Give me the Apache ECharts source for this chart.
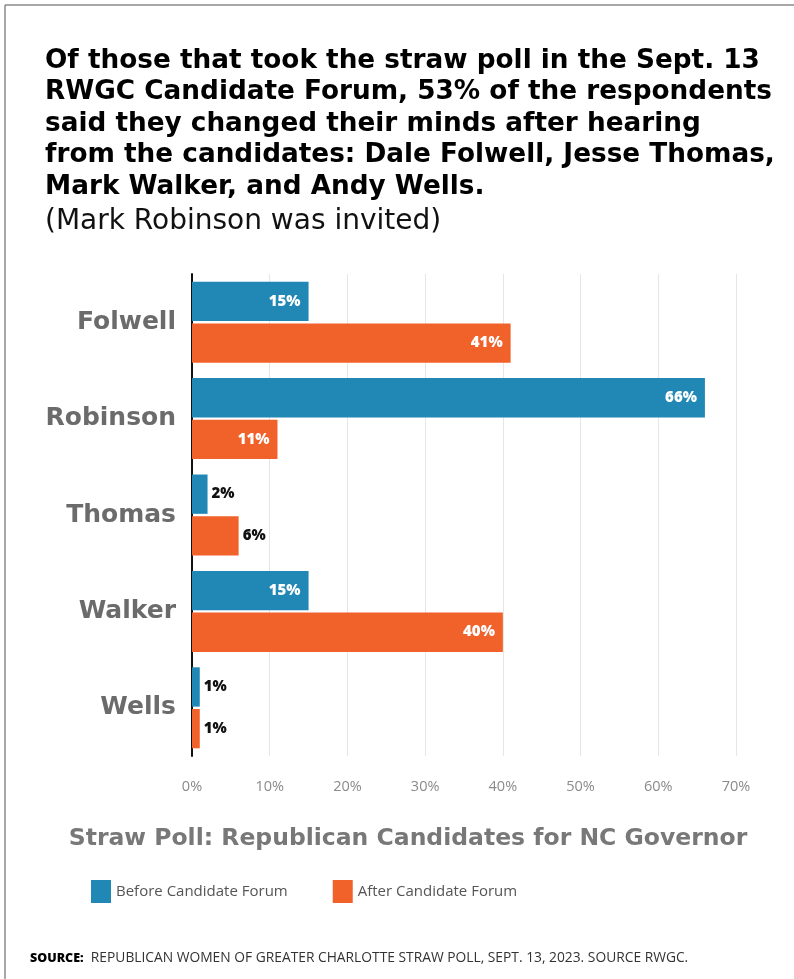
<!DOCTYPE html>
<html><head><meta charset="utf-8">
<script src="https://cdn.jsdelivr.net/npm/echarts@6/dist/echarts.min.js"></script>
<style>html,body{margin:0;padding:0;background:#fff}#c{width:794px;height:979px}</style>
</head><body><div id="c"></div>
<script>
const categories = ['Folwell', 'Robinson', 'Thomas', 'Walker', 'Wells'];
const beforeValues = [15, 66, 2, 15, 1];
const afterValues = [41, 11, 6, 40, 1];
const xTickLabels = ['0%', '10%', '20%', '30%', '40%', '50%', '60%', '70%'];
const seriesNames = ['Before Candidate Forum', 'After Candidate Forum'];

const BLUE = '#2187b5', ORANGE = '#f1612a';
const FONT = 'Open Sans';
const WIDE = 'DejaVu Sans';

function items(vals) {
  return vals.map(v => ({
    value: v,
    label: v >= 10
      ? { position: 'insideRight', color: '#fff', distance: 8 }
      : { position: 'right', color: '#111', distance: 4 }
  }));
}

const chart = echarts.init(document.getElementById('c'), null, { renderer: 'canvas' });
chart.setOption({
  animation: false,
  backgroundColor: '#fff',
  title: [
    {
      text: 'Of those that took the straw poll in the Sept. 13\nRWGC Candidate Forum, 53% of the respondents\nsaid they changed their minds after hearing\nfrom the candidates: Dale Folwell, Jesse Thomas,\nMark Walker, and Andy Wells.',
      left: 45, top: 45, padding: 0,
      textStyle: { fontFamily: WIDE, fontWeight: 'bold', fontSize: 26.3, lineHeight: 31.6, color: '#000' }
    },
    {
      text: '(Mark Robinson was invited)',
      left: 45, top: 208, padding: 0,
      textStyle: { fontFamily: WIDE, fontWeight: 'normal', fontSize: 28, color: '#111' }
    },
    {
      text: 'Straw Poll: Republican Candidates for NC Governor',
      left: 408, textAlign: 'center', top: 827, padding: 0,
      textStyle: { fontFamily: WIDE, fontWeight: 'bold', fontSize: 23.5, color: '#787878' }
    },
    {
      text: '{b|SOURCE:}  REPUBLICAN WOMEN OF GREATER CHARLOTTE STRAW POLL, SEPT. 13, 2023. SOURCE RWGC.',
      left: 30, top: 951, padding: 0,
      textStyle: {
        fontFamily: FONT, fontWeight: 'normal', fontSize: 13.8, color: '#333',
        rich: { b: { fontFamily: FONT, fontWeight: 800, fontSize: 12.5, color: '#000' } }
      }
    }
  ],
  graphic: [
    { type: 'line', shape: { x1: 5, y1: 5, x2: 794, y2: 5 }, style: { stroke: '#8a8a8a', lineWidth: 1.5 } },
    { type: 'line', shape: { x1: 5, y1: 5, x2: 5, y2: 979 }, style: { stroke: '#8a8a8a', lineWidth: 1.5 } }
  ],
  legend: {
    data: seriesNames,
    left: 91, top: 880, padding: 0,
    icon: 'rect', itemWidth: 20, itemHeight: 23, itemGap: 45, itemTextGap: 9,
    textStyle: { fontFamily: FONT, fontSize: 15, color: '#555' }
  },
  grid: { left: 192, right: 58, top: 274, height: 482, containLabel: false },
  xAxis: {
    type: 'value', min: 0, max: 70, interval: 10,
    axisLine: { show: false }, axisTick: { show: false },
    splitLine: { show: true, lineStyle: { color: '#e6e6e6', width: 1 } },
    axisLabel: {
      margin: 23, fontFamily: FONT, fontSize: 14.5, color: '#8a8a8a',
      formatter: (v) => xTickLabels[Math.round(v / 10)]
    }
  },
  yAxis: {
    type: 'category', data: categories, inverse: true,
    axisLine: { show: true, lineStyle: { color: '#111', width: 2 } },
    axisTick: { show: false },
    axisLabel: { margin: 16, fontFamily: WIDE, fontWeight: 'bold', fontSize: 25, color: '#6b6b6b' }
  },
  series: [
    {
      name: seriesNames[0], type: 'bar', data: items(beforeValues),
      itemStyle: { color: BLUE }, barGap: '6%', barCategoryGap: '16%',
      label: { show: true, formatter: '{c}%', fontFamily: FONT, fontWeight: 800, fontSize: 15 }
    },
    {
      name: seriesNames[1], type: 'bar', data: items(afterValues),
      itemStyle: { color: ORANGE }, barGap: '6%', barCategoryGap: '16%',
      label: { show: true, formatter: '{c}%', fontFamily: FONT, fontWeight: 800, fontSize: 15 }
    }
  ]
});
</script></body></html>
